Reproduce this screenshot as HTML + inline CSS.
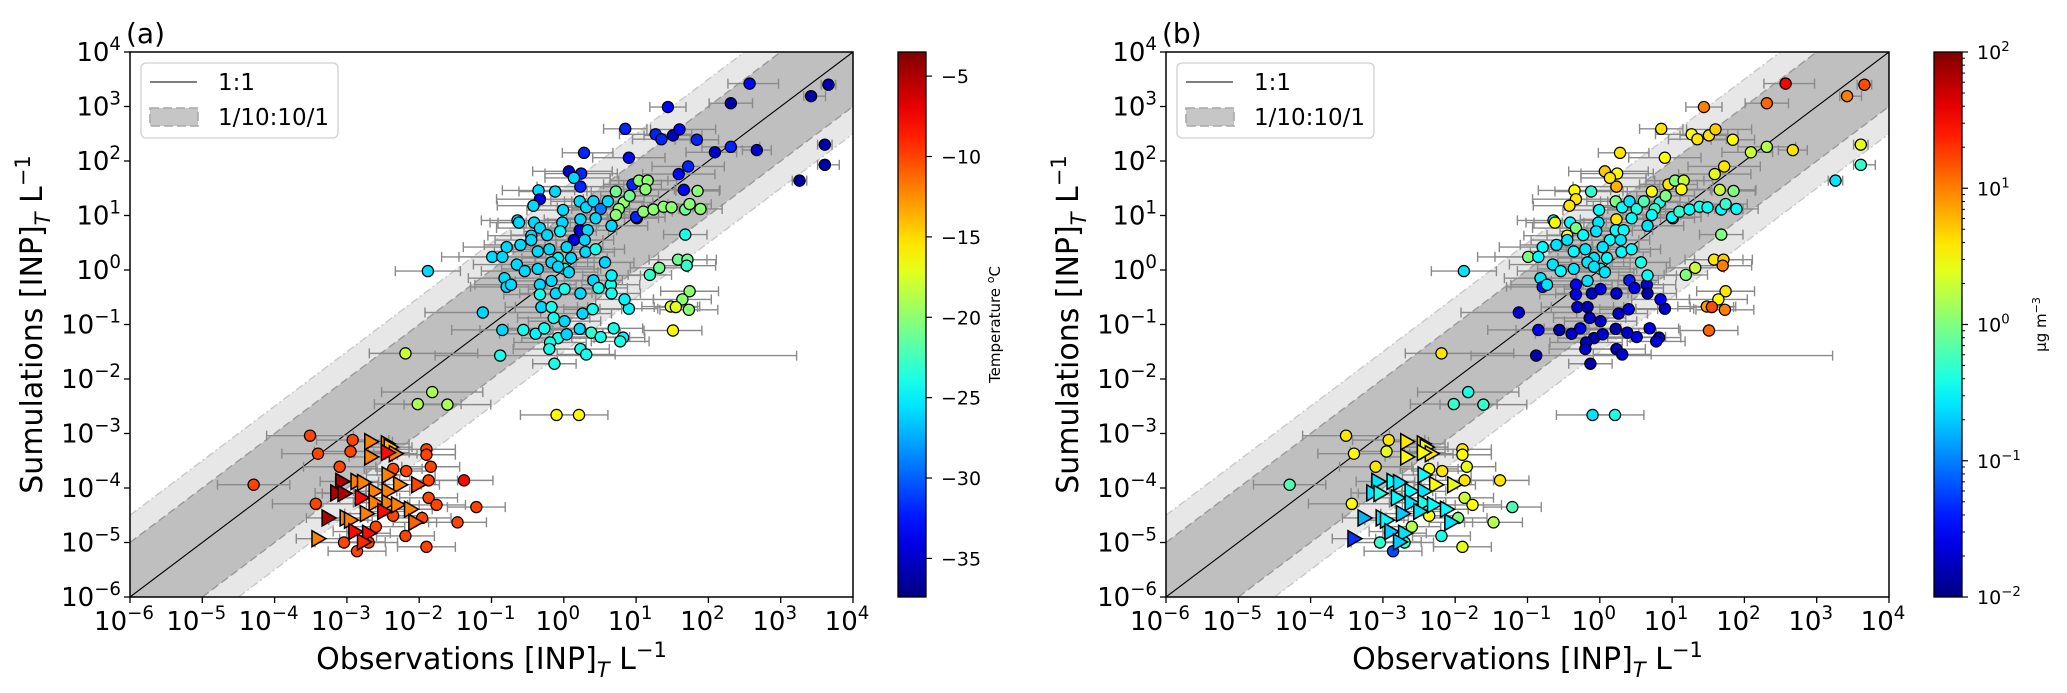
<!DOCTYPE html>
<html><head><meta charset="utf-8">
<style>
html,body{margin:0;padding:0;background:#fff;width:2067px;height:693px;overflow:hidden;}
svg{display:block;font-family:"DejaVu Sans","Liberation Sans",sans-serif;}
</style></head>
<body>
<svg id="fig" xmlns="http://www.w3.org/2000/svg" width="2067" height="693" viewBox="0 0 2067 693" overflow="hidden"></svg>
<script>
// ---- data (log10 values) ----
const obsLog = [
1.44,0.85,0.28,0.90,0.07,0.24,0.23,0.14,-0.35,-0.12,-0.33,-0.42,-0.64,-0.62,-0.41,-0.01,0.22,0.31,0.41,0.51,
0.61,0.44,0.66,0.23,0.22,0.33,-0.33,-0.02,-0.45,-0.23,-0.05,0.14,0.29,-0.79,-0.99,-0.85,-0.60,-0.45,-0.36,-0.20,
-0.08,0.04,0.10,-0.65,-0.54,-0.36,-0.17,0.01,-0.08,0.30,0.44,0.57,0.07,-0.17,-1.88,-0.82,-0.79,-0.73,-0.33,-0.33,
-0.11,-0.31,-0.17,0.01,0.23,0.41,0.48,0.65,0.66,0.26,0.40,-1.12,-0.85,-0.56,-0.39,-0.27,-0.08,0.04,0.22,0.38,
0.51,0.69,-0.19,-0.20,0.23,0.31,-0.88,-0.13,0.01,-0.14,0.72,0.83,0.91,0.76,0.72,1.01,-2.19,-1.82,-2.02,-1.61,
-0.10,0.21,2.57,2.31,3.42,3.66,1.27,1.35,1.51,1.60,1.84,2.09,2.31,2.67,3.61,3.61,3.26,1.72,1.59,1.66,
1.00,0.95,1.04,1.16,1.13,1.85,1.10,1.24,1.38,1.49,1.68,1.74,1.89,1.68,1.58,1.71,1.70,1.32,1.19,1.74,
1.64,1.48,1.55,1.73,1.51,0.82,0.78,0.90,0.84,0.66,
-3.51,-3.40,-4.29,-2.92,-2.95,-3.10,-3.43,-3.04,-2.86,-2.70,-1.90,-1.90,-1.84,-1.87,-1.38,-1.87,-1.76,-1.21,-1.47,-1.90,
-2.19,-2.36,-2.60,-2.18,-2.36,-1.96,
-2.67,-2.67,-2.44,-2.40,-2.33,-2.44,-2.43,-3.07,-2.86,-2.77,-2.27,-2.02,-3.14,-3.04,-2.61,-2.43,-2.80,-2.61,-2.43,-2.30,
-2.73,-2.49,-2.12,-3.26,-3.01,-2.95,-2.06,-2.89,-2.70,-3.40,-2.77];
const simLog = [
2.99,2.59,2.15,2.06,1.81,1.77,1.53,1.69,1.46,1.44,1.30,1.18,0.91,0.87,0.87,1.10,1.26,1.15,1.26,1.12,
1.26,0.95,0.81,0.93,0.73,0.73,0.77,0.87,0.63,0.64,0.71,0.55,0.55,0.42,0.24,0.24,0.46,0.55,0.34,0.38,
0.22,0.42,0.22,0.10,-0.02,0.02,0.14,0.02,0.06,0.33,0.38,0.14,-0.04,-0.20,-0.02,-0.15,-0.31,-0.27,-0.27,-0.45,
-0.43,-0.68,-0.68,-0.35,-0.43,-0.19,-0.33,-0.27,-0.43,-0.80,-0.72,-0.78,-1.10,-1.10,-1.17,-1.07,-1.25,-1.18,-1.08,-1.15,
-1.23,-1.07,-1.33,-1.45,-1.45,-1.55,-1.57,-1.72,-0.94,-0.88,1.44,1.24,1.36,1.12,1.01,0.95,-1.53,-2.24,-2.46,-2.47,
-2.66,-2.66,3.42,3.06,3.19,3.40,2.49,2.40,2.47,2.58,2.39,2.16,2.26,2.20,2.30,1.93,1.64,1.90,1.76,1.47,
0.97,1.57,1.64,1.64,1.48,1.45,1.07,1.11,1.16,1.15,1.11,1.21,1.12,0.65,0.19,0.19,0.08,0.04,-0.09,-0.39,
-0.54,-0.67,-0.68,-0.73,-1.11,-1.24,-1.31,-0.71,-0.54,-0.10,
-3.04,-3.37,-3.94,-3.12,-3.33,-3.61,-4.29,-5.00,-5.16,-5.00,-3.29,-3.39,-3.61,-3.86,-3.86,-4.18,-4.31,-4.35,-4.63,-5.08,
-4.88,-4.51,-4.71,-3.69,-3.65,-4.55,
-3.15,-3.43,-3.19,-3.25,-3.37,-3.35,-3.76,-3.88,-3.88,-3.90,-3.94,-3.94,-4.09,-4.10,-4.06,-4.06,-4.18,-4.27,-4.27,-4.31,
-4.47,-4.43,-4.39,-4.55,-4.55,-4.59,-4.63,-4.80,-4.83,-4.93,-4.99];
const errLo = [
.25,.3,.3,.5,.5,.5,.6,.4,.5,.5,.6,.5,.5,.4,.5,.5,.4,.4,.4,.4,
.5,.4,.5,.5,.4,.4,.6,.5,.6,.5,.5,.4,.4,.6,.7,.6,.5,.5,.6,.5,
.5,.5,.5,.6,.6,.5,.5,.5,.5,.4,.4,.4,.4,.5,.45,.5,.5,.5,.5,.5,
.5,.5,.5,.5,.4,.4,.4,.4,.4,.4,.4,.8,.7,.6,.5,.5,.5,.5,.4,.4,
.4,.4,.5,.5,.4,.4,.9,.3,.5,.5,.4,.4,.4,.4,.4,.3,.5,.7,.6,.6,
.5,.3,.3,.3,.1,.1,.5,.4,.4,.4,.3,.4,.4,.2,.1,.1,.1,.5,.5,.6,
.4,.4,.4,.4,.4,.3,.4,.4,.3,.3,.3,.3,.3,.3,.4,.4,.4,.4,.3,.4,
.4,.4,.3,.4,.4,.3,.4,.4,.4,.4,
.6,.5,.5,.5,.5,.5,.6,.4,.4,.4,.4,.4,.4,.4,.4,.4,.4,.4,.4,.4,
.4,.4,.4,.4,.4,.4,
.3,.3,.3,.3,.3,.3,.3,.3,.3,.3,.3,.3,.3,.3,.3,.3,.3,.3,.3,.3,
.3,.3,.3,.3,.3,.3,.3,.3,.3,.3,.3];
const errHi = [
.25,.3,.4,.5,.6,.5,.6,.5,.5,.5,.6,.6,.6,.4,.5,.5,.4,.4,.4,.4,
.5,.4,.5,.5,.4,.4,.6,.5,.6,.5,.5,.4,.4,.6,.6,.6,.5,.5,.5,.5,
.5,.5,.5,.6,.6,.5,.5,.5,.5,.4,.4,.4,.4,.5,.45,.5,.5,.5,.5,.5,
.5,.5,.5,.5,.4,.4,.4,.4,.4,.4,.4,.8,.7,.6,.5,.5,.5,.5,.4,.4,
.4,.4,.5,.5,.4,.4,4.1,.3,.5,.5,.4,.4,.4,.4,.4,.3,1.0,.7,.6,.6,
.3,.4,.4,.3,.2,.1,.5,.4,.4,.5,.3,.3,.4,.2,.1,.2,.1,.5,.5,.5,
.4,.4,.4,.4,.4,.3,.4,.4,.3,.3,.3,.3,.3,.3,.4,.4,.4,.4,.3,.4,
.4,.4,.3,.4,.4,.3,.4,.4,.4,.4,
.6,.5,.5,.5,.5,.5,.6,.4,.4,.4,.4,.4,.4,.4,.4,.4,.4,.4,.4,.4,
.4,.4,.4,.4,.4,.4,
.3,.3,.3,.3,.3,.3,.3,.3,.3,.3,.3,.3,.3,.3,.3,.3,.3,.3,.3,.3,
.3,.3,.3,.3,.3,.3,.3,.3,.3,.3,.3];
const tempC = [
-33,-32,-32,-33,-35,-32,-32,-26,-26,-26,-34,-26,-26,-26,-26,-26,-26,-26,-26,-29,
-26,-26,-26,-26,-34,-26,-26,-26,-26,-26,-25,-34,-26,-26,-26,-26,-26,-26,-26,-26,
-25,-26,-26,-26,-26,-26,-26,-24,-26,-26,-24,-26,-26,-26,-26,-26,-26,-26,-26,-24,
-26,-26,-24,-24,-26,-26,-24,-24,-24,-26,-24,-26,-26,-24,-25,-24,-24,-26,-26,-23,
-24,-24,-24,-24,-24,-24,-24,-24,-26,-24,-21,-20,-21,-20,-20,-34,-18,-19,-19,-19,
-16,-16,-33,-36,-36,-36,-32,-32,-35,-33,-32,-35,-32,-35,-36,-36,-36,-32,-33,-33,
-32,-32,-20,-20,-20,-20,-20,-20,-20,-20,-21,-20,-20,-24,-21,-21,-23,-21,-23,-20,
-20,-17,-17,-20,-16,-25,-24,-25,-25,-25,
-10,-10,-10,-10,-10,-10,-10,-10,-10,-10,-10,-10,-10,-10,-8,-10,-10,-10,-10,-10,
-10,-10,-10,-10,-10,-10,
-12,-12,-12,-14,-12,-8,-12,-5,-12,-12,-12,-10,-5,-5,-12,-12,-8,-12,-12,-12,
-12,-8,-12,-5,-12,-12,-11,-8,-8,-12,-9];
const massLog = [
1.0,0.6,0.6,0.5,0.7,0.5,0.8,0.6,0.5,-0.3,0.6,0.6,-0.5,0.5,-0.5,-0.5,0.0,-0.5,-0.6,-0.4,
-0.2,-0.5,-0.6,0.6,-0.5,-0.5,0.0,-0.6,0.5,-0.5,-0.6,-0.5,-0.6,-0.5,0.0,-0.5,-0.6,-0.6,-0.5,-0.6,
-0.6,-0.6,-0.5,-0.6,-0.5,-0.6,-0.6,-0.5,-0.6,-0.5,-0.5,-0.4,-0.6,-0.6,-0.6,-0.6,-1.4,-0.6,-1.5,-1.6,
-1.7,-1.7,-1.8,-1.6,-1.7,-1.4,-1.6,-1.7,-1.8,-1.7,-1.6,-1.7,-1.5,-1.8,-1.7,-1.6,-1.8,-1.7,-1.8,-1.7,
-1.6,-1.6,-1.8,-1.7,-1.8,-1.7,-1.8,-1.8,-1.7,-1.7,0.5,-0.4,0.0,-0.3,-0.5,-0.3,0.6,-0.4,-0.3,-0.3,
-0.6,-0.4,1.5,1.1,1.0,1.2,0.5,0.6,0.6,0.7,0.5,0.3,0.2,0.6,0.4,-0.3,-0.6,0.6,0.4,0.3,
-0.5,0.6,0.0,0.3,0.5,0.0,-0.3,-0.5,-0.4,-0.5,-0.5,-0.3,-0.5,0.0,0.6,0.7,1.0,0.3,0.0,0.6,
0.5,0.9,1.2,1.0,1.1,-1.7,-1.6,-1.7,-1.5,-0.5,
0.6,0.5,-0.2,0.6,0.4,0.6,0.5,-0.3,-1.2,-0.3,0.6,0.5,0.4,0.6,0.6,0.3,0.5,-0.2,0.2,0.4,
-0.4,0.5,0.2,0.6,0.5,0.0,
0.6,0.5,0.6,0.4,0.6,0.5,-0.5,-0.6,-0.5,-0.6,0.5,0.4,-0.6,-0.4,-0.5,-0.6,-0.5,-0.6,-0.4,-0.5,
-0.7,-0.6,-0.5,-0.8,-0.6,-0.5,-0.6,-0.7,-0.6,-1.3,-0.7];
const markerKind = ("o".repeat(150) + "o".repeat(26) + ">".repeat(31)).split("");
const axisTicks = [-6,-5,-4,-3,-2,-1,0,1,2,3,4];
const tempTicks = [-5,-10,-15,-20,-25,-30,-35];
const massTicks = [-2,-1,0,1,2];
const tempRange = [-37.4,-3.5];
const massRange = [-2,2];

// ---- layout ----
const NS = "http://www.w3.org/2000/svg";
const svg = document.getElementById("fig");
const Y0 = 52, Y1 = 597;
function mk(tag, attrs, parent){const e=document.createElementNS(NS,tag);for(const k in attrs)e.setAttribute(k,attrs[k]);(parent||svg).appendChild(e);return e;}
function jet(t){t=Math.max(0,Math.min(1,t));const c=v=>Math.round(255*Math.max(0,Math.min(1,v)));
 return `rgb(${c(1.5-Math.abs(4*t-3))},${c(1.5-Math.abs(4*t-2))},${c(1.5-Math.abs(4*t-1))})`;}
function powLabel(parent,x,y,exp,anchor,size){
 const t=mk("text",{x:x,y:y,"font-size":size,"text-anchor":anchor,fill:"#000"},parent);
 const a=document.createElementNS(NS,"tspan");a.textContent="10";t.appendChild(a);
 const b=document.createElementNS(NS,"tspan");b.setAttribute("dy",-size*0.42);b.setAttribute("font-size",size*0.7);
 b.textContent=(exp<0?"\u2212":"")+Math.abs(exp);t.appendChild(b);return t;}

function panel(x0, letter, colorOf, cbX, cbKind){
 const x1 = x0+723;
 const sx = v => x0 + (v+6)*(x1-x0)/10;
 const sy = v => Y1 - (v+6)*(Y1-Y0)/10;
 const g = mk("g",{});
 
 
 const cid = "clip"+letter;
 const cp = mk("clipPath",{id:cid},g); mk("rect",{x:x0,y:Y0,width:x1-x0,height:Y1-Y0},cp);
 const pg = mk("g",{"clip-path":`url(#${cid})`},g);
 const band=(k)=>[[-6,-6],[-6,-6+k],[4-k,4],[4,4],[4,4-k],[-6+k,-6]].map(p=>sx(p[0])+","+sy(p[1])).join(" ");
 const outer = mk("polygon",{points:band(1.5),fill:"#e7e7e7"},pg);
 
 
 const inner = mk("polygon",{points:band(1),fill:"#bfbfbf"},pg);
 
 
 [[1,"#999","8,4"],[1.5,"#c8c8c8","8,3,2,3"]].forEach(([k,c,d])=>{
  const l1 = mk("line",{x1:sx(-6),y1:sy(-6+k),x2:sx(4-k),y2:sy(4),stroke:c,"stroke-width":1.4,"stroke-dasharray":d},pg);
  
  
  const l2 = mk("line",{x1:sx(-6+k),y1:sy(-6),x2:sx(4),y2:sy(4-k),stroke:c,"stroke-width":1.4,"stroke-dasharray":d},pg);
  
  
 });
 const one = mk("line",{x1:sx(-6),y1:sy(-6),x2:sx(4),y2:sy(4),stroke:"#000","stroke-width":1.1},pg);
 
 
 for(let i=0;i<obsLog.length;i++){
  const y=sy(simLog[i]), xa=sx(obsLog[i]-errLo[i]), xb=sx(obsLog[i]+errHi[i]);
  const e = mk("path",{d:`M${xa},${y}H${xb}M${xa},${y-5}V${y+5}M${xb},${y-5}V${y+5}`,stroke:"#8a8a8a","stroke-width":1.4,fill:"none"},pg);
  
  
 }
 for(let i=0;i<obsLog.length;i++){
  const x=sx(obsLog[i]), y=sy(simLog[i]), col=colorOf(i);
  let m;
  if(markerKind[i]===">") m = mk("polygon",{points:`${x+8},${y} ${x-6},${y-8} ${x-6},${y+8}`,fill:col,stroke:"#000","stroke-width":1.5},pg);
  else m = mk("circle",{cx:x,cy:y,r:5.6,fill:col,stroke:"#000","stroke-width":1.2},pg);
  
  
 }
 const fr = mk("rect",{x:x0,y:Y0,width:x1-x0,height:Y1-Y0,fill:"none",stroke:"#000","stroke-width":1.5},g);
 
 
 axisTicks.forEach(v=>{
  const tx = mk("line",{x1:sx(v),y1:Y1,x2:sx(v),y2:Y1+6,stroke:"#000","stroke-width":1.3},g);
  
  
  const lx = powLabel(g,sx(v)-6,630,v,"middle",26);
  
  
  const ty = mk("line",{x1:x0-6,y1:sy(v),x2:x0,y2:sy(v),stroke:"#000","stroke-width":1.3},g);
  
  
  const ly = powLabel(g,x0-9,sy(v)+9,v,"end",26);
  
  
 });
 const xt = mk("text",{x:(x0+x1)/2,y:669,"font-size":30,"text-anchor":"middle"},g);
 xt.innerHTML = 'Observations [INP]<tspan font-size="21" font-style="italic" dy="8">T</tspan><tspan dy="-8"> L</tspan><tspan font-size="21" dy="-12">\u22121</tspan>';
 
 
 const yt = mk("text",{x:0,y:0,"font-size":30,"text-anchor":"middle",transform:`translate(${x0-88},${(Y0+Y1)/2}) rotate(-90)`},g);
 yt.innerHTML = 'Sumulations [INP]<tspan font-size="21" font-style="italic" dy="8">T</tspan><tspan dy="-8"> L</tspan><tspan font-size="21" dy="-12">\u22121</tspan>';
 
 
 const pl = mk("text",{x:x0-4,y:43,"font-size":28},g);
 pl.textContent = "("+letter+")";
 
 
 const lg = mk("g",{},g);
 
 
 mk("rect",{x:x0+11,y:63,width:197,height:75,rx:5,fill:"#fff","fill-opacity":0.8,stroke:"#d0d0d0","stroke-width":1.3},lg);
 const le1 = mk("line",{x1:x0+20,y1:82,x2:x0+67,y2:82,stroke:"#555","stroke-width":1.6},lg);
 
 
 const lt1 = mk("text",{x:x0+88,y:90,"font-size":23},lg); lt1.textContent="1:1";
 
 
 const le2 = mk("rect",{x:x0+20,y:108,width:48,height:18,fill:"#c6c6c6",stroke:"#a8a8a8","stroke-width":1.6,"stroke-dasharray":"9,4"},lg);
 
 
 const lt2 = mk("text",{x:x0+88,y:125,"font-size":23},lg); lt2.textContent="1/10:10/1";
 
 
 const gid = "grad"+letter;
 const defs = mk("defs",{},g);
 const lgd = mk("linearGradient",{id:gid,x1:0,y1:1,x2:0,y2:0},defs);
 for(let s=0;s<=20;s++) mk("stop",{offset:s/20,"stop-color":jet(s/20)},lgd);
 const cb = mk("rect",{x:cbX,y:Y0,width:28,height:Y1-Y0,fill:`url(#${gid})`,stroke:"#000","stroke-width":1.3},g);
 
 
 if(cbKind==="temp"){
  const cy = v => Y1 - (v-tempRange[0])/(tempRange[1]-tempRange[0])*(Y1-Y0);
  tempTicks.forEach(v=>{
   mk("line",{x1:cbX+28,y1:cy(v),x2:cbX+34,y2:cy(v),stroke:"#000","stroke-width":1.2},g);
   const t = mk("text",{x:cbX+43,y:cy(v)+7,"font-size":19},g); t.textContent="\u2212"+Math.abs(v);
   
   
  });
  const ct = mk("text",{x:0,y:0,"font-size":15,"text-anchor":"middle",transform:`translate(${cbX+102},${(Y0+Y1)/2}) rotate(-90)`},g);
  ct.innerHTML='Temperature <tspan font-size="11" dy="-6">o</tspan><tspan dy="6">C</tspan>';
  
  
 } else {
  const cy = v => Y1 - (v-massRange[0])/(massRange[1]-massRange[0])*(Y1-Y0);
  massTicks.forEach(v=>{
   mk("line",{x1:cbX+28,y1:cy(v),x2:cbX+34,y2:cy(v),stroke:"#000","stroke-width":1.2},g);
   const t = powLabel(g,cbX+43,cy(v)+7,v,"start",19);
   
   
   if(v<2) for(let m=2;m<10;m++){const yy=cy(v+Math.log10(m));mk("line",{x1:cbX+28,y1:yy,x2:cbX+31,y2:yy,stroke:"#000","stroke-width":1},g);}
  });
  const ct = mk("text",{x:0,y:0,"font-size":15,"text-anchor":"middle",transform:`translate(${cbX+112},${(Y0+Y1)/2}) rotate(-90)`},g);
  ct.innerHTML='\u03bcg m<tspan font-size="11" dy="-6">\u22123</tspan>';
  
  
 }
}
panel(130,"a",i=>jet((tempC[i]-tempRange[0])/(tempRange[1]-tempRange[0])),898,"temp");
panel(1166,"b",i=>jet((massLog[i]-massRange[0])/(massRange[1]-massRange[0])),1934,"mass");
</script>
</body></html>
